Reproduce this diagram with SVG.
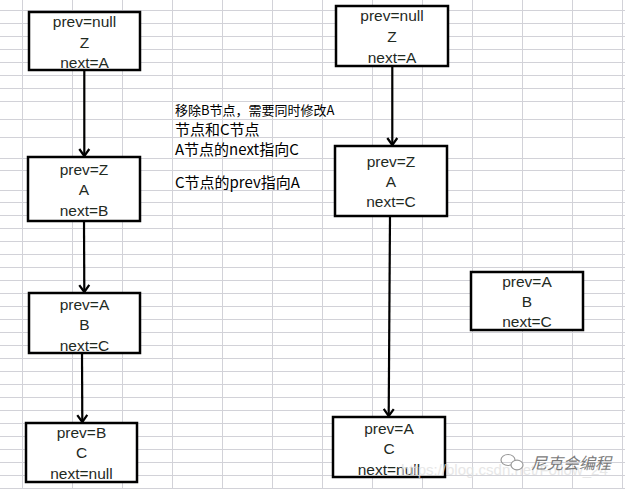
<svg xmlns="http://www.w3.org/2000/svg" width="625" height="489" viewBox="0 0 625 489">
<defs>
<style>
.grid{stroke:#d2d2d8;stroke-width:1;fill:none}
.box{fill:#ffffff;stroke:#000000;stroke-width:2.5}
.t{font-family:"Liberation Sans","Noto Sans",sans-serif;font-size:15.5px;fill:#1f2a1f;text-anchor:middle}
.note{font-family:"Noto Sans CJK SC",sans-serif;fill:#000000}
.conn{stroke:#000000;stroke-width:2.2;fill:none;marker-end:url(#arr)}
</style>
<marker id="arr" markerUnits="userSpaceOnUse" markerWidth="14" markerHeight="14" refX="0" refY="0" orient="auto" viewBox="-10 -7 12 14" overflow="visible">
<path d="M-7,-5 L0,0 L-7,5" fill="none" stroke="#000000" stroke-width="2.2"/>
</marker>
</defs>
<rect width="625" height="489" fill="#ffffff"/>
<g id="grid">
<path class="grid" d="M22.5,0V489M72.5,0V489M122.5,0V489M172.5,0V489M222.5,0V489M272.5,0V489M322.5,0V489M372.5,0V489M422.5,0V489M472.5,0V489M522.5,0V489M572.5,0V489M622.5,0V489"/>
<path class="grid" d="M0,10.5H625M0,23.5H625M0,36.5H625M0,49.5H625M0,62.5H625M0,75.5H625M0,88.5H625M0,101.5H625M0,119.5H625M0,137.5H625M0,158.5H625M0,170.5H625M0,190.5H625M0,202.5H625M0,215.5H625M0,228.5H625M0,241.5H625M0,254.5H625M0,267.5H625M0,280.5H625M0,293.5H625M0,306.5H625M0,319.5H625M0,332.5H625M0,345.5H625M0,358.5H625M0,371.5H625M0,384.5H625M0,397.5H625M0,410.5H625M0,423.5H625M0,436.5H625M0,449.5H625M0,462.5H625M0,475.5H625M0,488.5H625"/>
</g>
<g id="connectors">
<path class="conn" d="M84.3,70 L84.3,156"/>
<path class="conn" d="M84,221 L84.3,292"/>
<path class="conn" d="M82,353 L82.3,422"/>
<path class="conn" d="M392.3,66 L392.3,145"/>
<path class="conn" d="M390,216 L388.7,416"/>
</g>
<g id="left-Z">
<rect class="box" x="29" y="12" width="111" height="58"/>
<text class="t" x="84.5" y="27.2">prev=null</text>
<text class="t" x="84.5" y="47.8">Z</text>
<text class="t" x="84.5" y="68.2">next=A</text>
</g>
<g id="left-A">
<rect class="box" x="28" y="157" width="112" height="64"/>
<text class="t" x="84" y="174.8">prev=Z</text>
<text class="t" x="84" y="194.8">A</text>
<text class="t" x="84" y="215.5">next=B</text>
</g>
<g id="left-B">
<rect class="box" x="29" y="293" width="111" height="60"/>
<text class="t" x="84.5" y="309.8">prev=A</text>
<text class="t" x="84.5" y="329.5">B</text>
<text class="t" x="84.5" y="350.5">next=C</text>
</g>
<g id="left-C">
<rect class="box" x="26" y="423" width="111" height="59"/>
<text class="t" x="81.5" y="438.2">prev=B</text>
<text class="t" x="81.5" y="458.2">C</text>
<text class="t" x="81.5" y="478.8">next=null</text>
</g>
<g id="right-Z">
<rect class="box" x="336" y="6" width="112" height="60"/>
<text class="t" x="392" y="21.2">prev=null</text>
<text class="t" x="392" y="41.5">Z</text>
<text class="t" x="392" y="62.8">next=A</text>
</g>
<g id="right-A">
<rect class="box" x="335" y="146" width="112" height="70"/>
<text class="t" x="391" y="166.8">prev=Z</text>
<text class="t" x="391" y="186.8">A</text>
<text class="t" x="391" y="207.2">next=C</text>
</g>
<g id="right-B">
<rect class="box" x="471" y="272" width="112" height="58"/>
<text class="t" x="527" y="287.2">prev=A</text>
<text class="t" x="527" y="306.5">B</text>
<text class="t" x="527" y="326.8">next=C</text>
</g>
<g id="right-C">
<rect class="box" x="333" y="417" width="112" height="60"/>
<text class="t" x="389" y="433.8">prev=A</text>
<text class="t" x="389" y="453.8">C</text>
<text class="t" x="389" y="474.8">next=null</text>
</g>
<g id="note">
<text class="note" x="175" y="115" font-size="13">移除B节点，需要同时修改A</text>
<text class="note" x="175" y="134.5" font-size="15">节点和C节点</text>
<text class="note" x="175" y="155" font-size="15">A节点的next指向C</text>
<text class="note" x="175" y="188" font-size="15">C节点的prev指向A</text>
</g>
<g id="watermark">
<text x="401" y="475" font-family="Liberation Sans,sans-serif" font-size="15" fill="#e2e2e2" opacity="0.8">https://blog.csdn.net/Follow_24</text>
<g fill="none" stroke="#9a9a9a" stroke-width="1.2">
<ellipse cx="508" cy="460" rx="7" ry="5.5"/>
<ellipse cx="517" cy="465" rx="6" ry="4.8" fill="#ffffff"/>
</g>
<text x="531" y="469" font-family="Noto Sans CJK SC,sans-serif" font-size="16" font-style="italic" fill="#7a7a7a">尼克会编程</text>
</g>
</svg>
